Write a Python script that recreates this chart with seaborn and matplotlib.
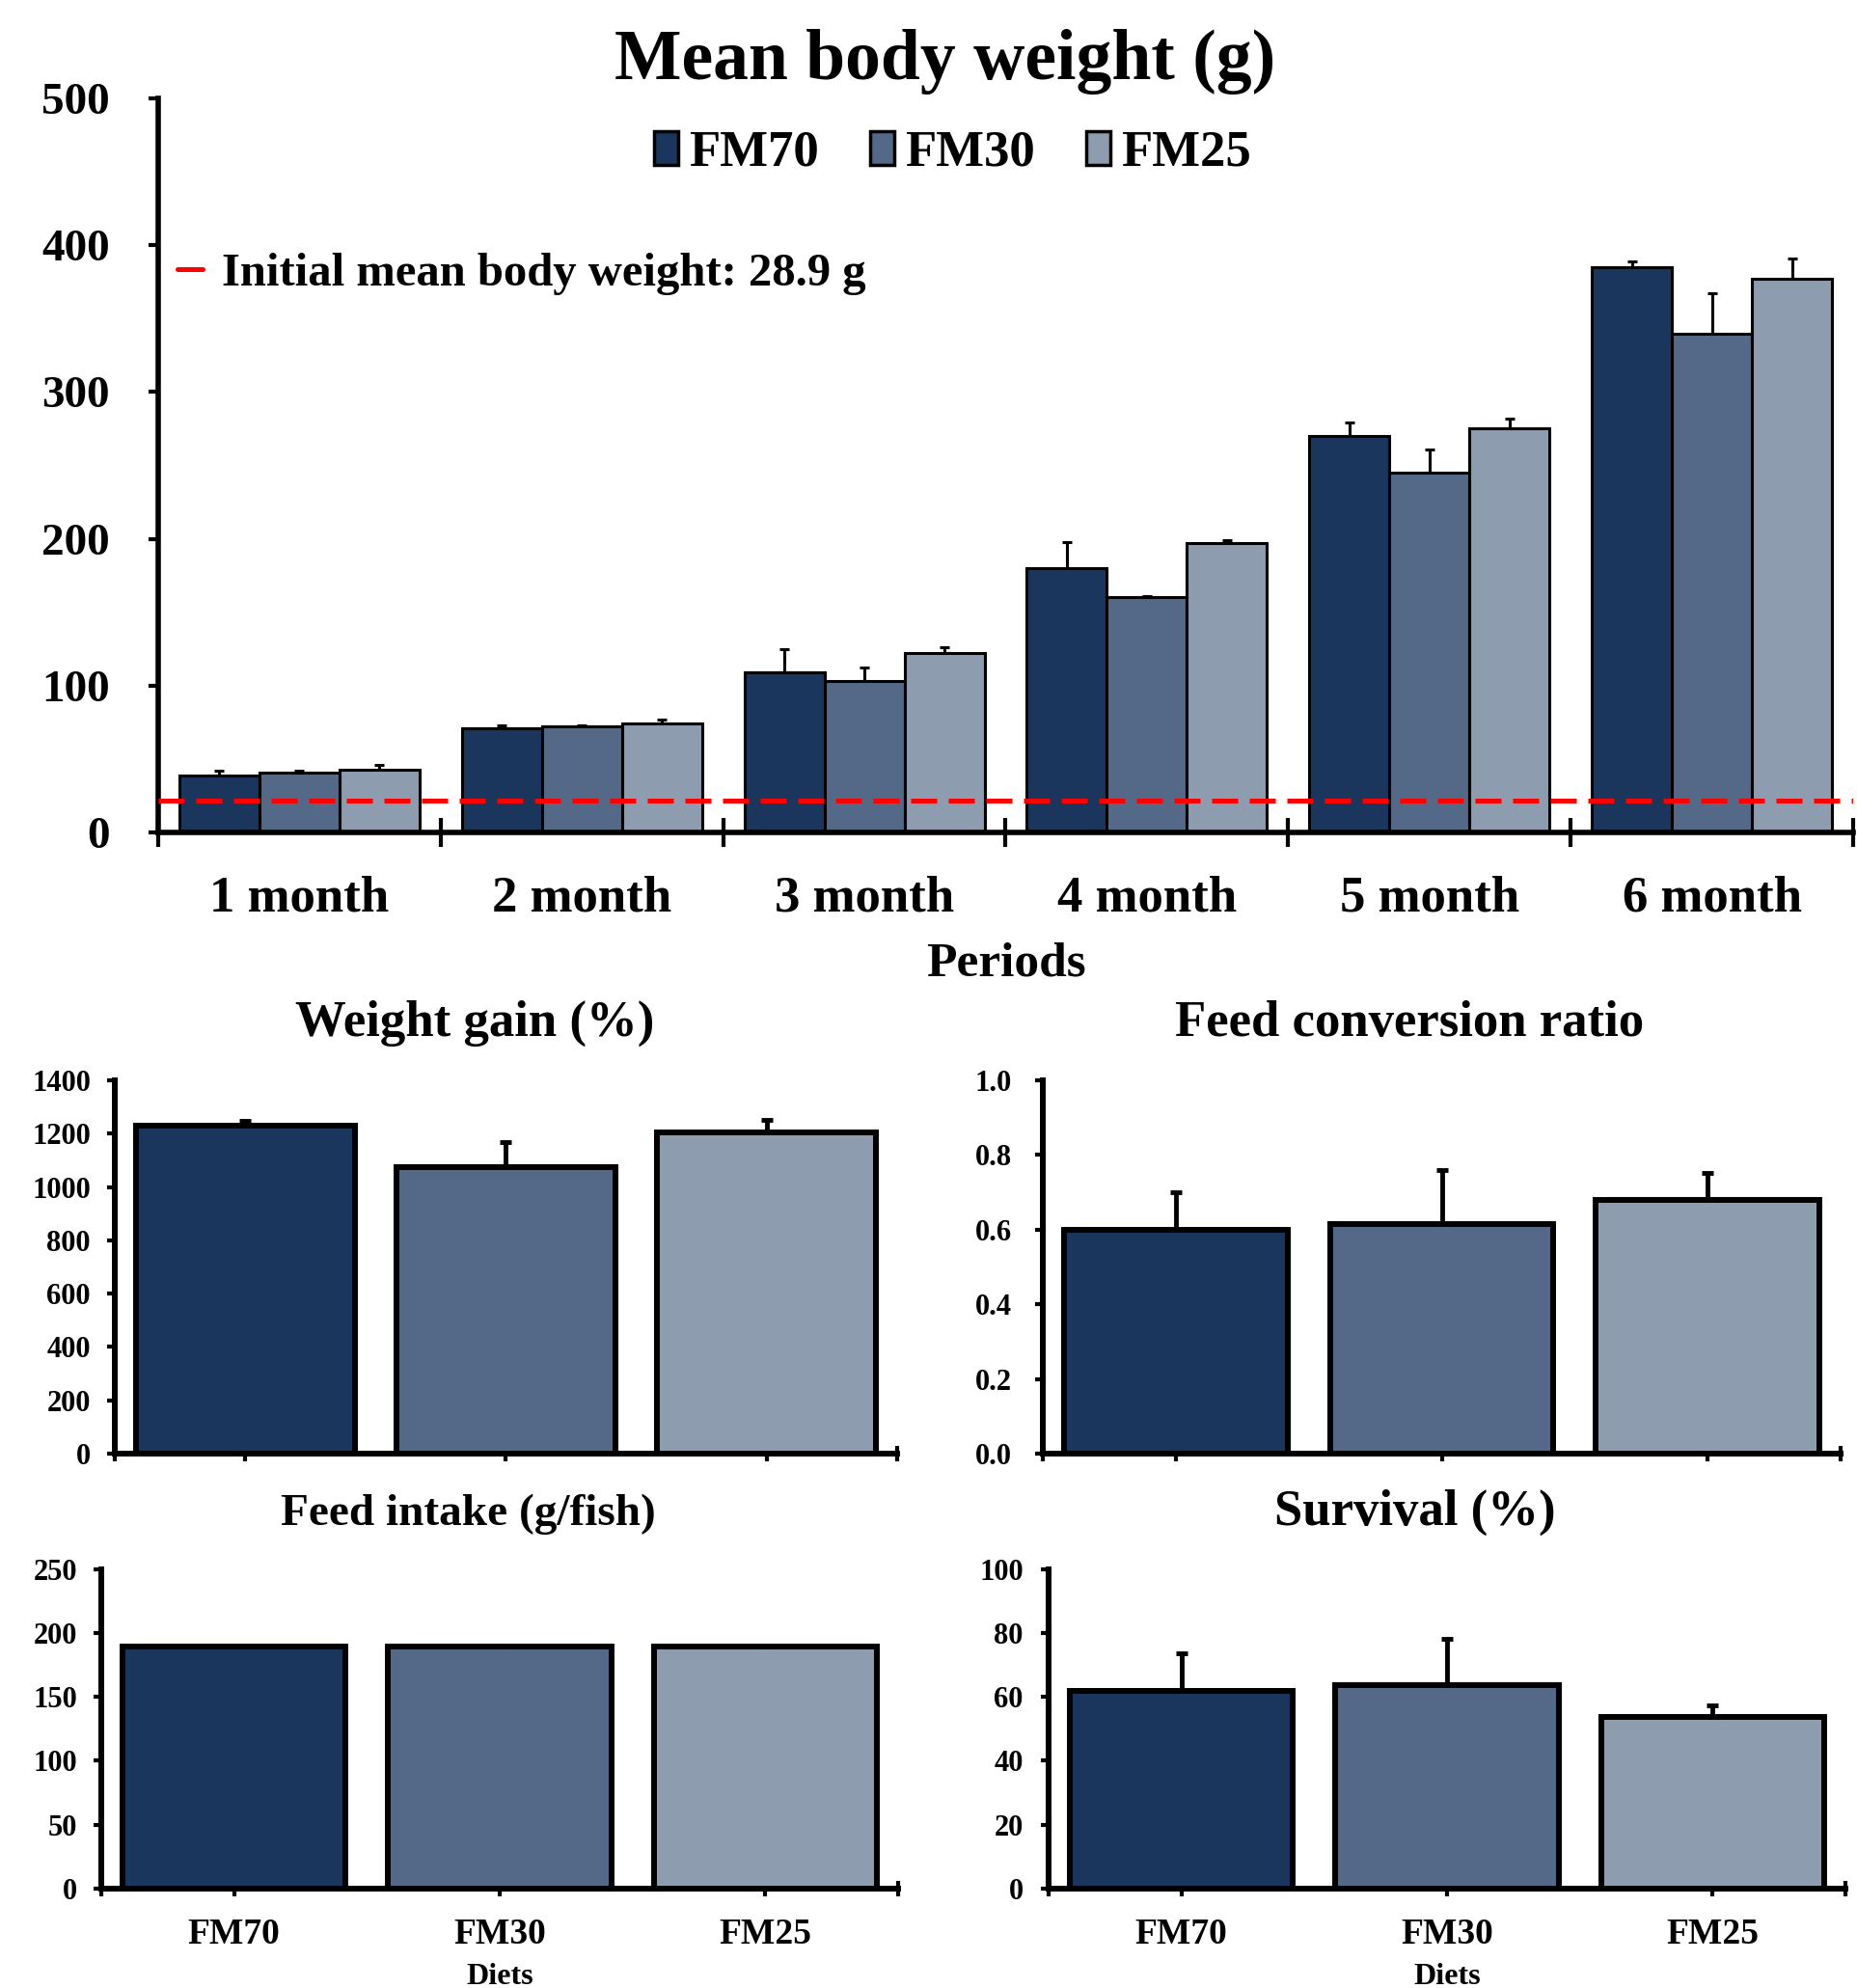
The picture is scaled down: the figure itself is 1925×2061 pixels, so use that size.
import numpy as np
import pandas as pd
import matplotlib
matplotlib.use("Agg")
import matplotlib.pyplot as plt
import seaborn as sns
from matplotlib.patches import Patch
from matplotlib.lines import Line2D

# ---- data ----
diets = ["FM70", "FM30", "FM25"]
periods = ["1 month", "2 month", "3 month", "4 month", "5 month", "6 month"]
colors = ["#1b365d", "#536987", "#8d9cae"]

bw_fm70 = [39, 71, 109, 180, 270, 385]
bw_fm30 = [41, 72, 103, 160, 245, 340]
bw_fm25 = [43, 74, 122, 197, 275, 377]
bw_err_fm70 = [3, 2, 16, 18, 9, 4]
bw_err_fm30 = [1, 1, 9, 1, 16, 27]
bw_err_fm25 = [3, 3, 4, 2, 7, 14]

initial_line = 21.5   # dashed line as drawn in the figure
initial_label = "Initial mean body weight: 28.9 g"

weight_gain = [1230, 1075, 1203]
weight_gain_err = [17, 93, 48]
fcr = [0.60, 0.615, 0.68]
fcr_err = [0.10, 0.145, 0.072]
feed_intake = [189.5, 189.5, 189.5]
feed_intake_err = [0.6, 0.6, 0.6]
survival = [61.7, 63.8, 53.8]
survival_err = [12.0, 14.3, 3.6]

sns.set_style("ticks")
plt.rcParams["font.family"] = ["Liberation Serif", "DejaVu Serif"]
plt.rcParams["font.weight"] = "bold"
plt.rcParams["axes.labelweight"] = "bold"
plt.rcParams["axes.titleweight"] = "bold"
for key in ["text.color", "axes.labelcolor", "xtick.color", "ytick.color", "axes.edgecolor"]:
    plt.rcParams[key] = "black"

fig = plt.figure(figsize=(19.25, 20.61), dpi=100)


def add_errbars(ax, bars, errs, lw, capsize):
    xs = [p.get_x() + p.get_width() / 2 for p in bars]
    ys = [p.get_height() for p in bars]
    ax.errorbar(xs, ys, yerr=[np.zeros(len(errs)), errs], fmt="none",
                ecolor="black", elinewidth=lw, capsize=capsize, capthick=lw,
                zorder=0.5)


# ============================
# Mean body weight
# ============================
ax = fig.add_axes([0.0852, 0.5813, 0.9127, 0.3692])
bw = pd.DataFrame({
    "period": periods * 3,
    "diet": np.repeat(diets, len(periods)),
    "weight": bw_fm70 + bw_fm30 + bw_fm25,
})
sns.barplot(data=bw, x="period", y="weight", hue="diet", order=periods,
            hue_order=diets, palette=colors, width=0.85, errorbar=None,
            edgecolor="black", linewidth=2.2, saturation=1, legend=False, ax=ax)
for cont, errs in zip(ax.containers, [bw_err_fm70, bw_err_fm30, bw_err_fm25]):
    add_errbars(ax, cont.patches, errs, lw=2.2, capsize=3.5)

ax.axhline(initial_line, color="#ff0000", ls=(0, (5.4, 2.4)), lw=3.6, zorder=5)
ax.set_xlim(-0.5, 5.5)
ax.set_ylim(0, 500)
ax.set_yticks(range(0, 501, 100))
ax.set_xticks(np.arange(-0.5, 6, 1), minor=True)
ax.tick_params(axis="x", which="major", length=0, pad=32, labelsize=38)
ax.tick_params(axis="x", which="minor", direction="inout", length=22, width=3)
ax.tick_params(axis="y", direction="out", length=7, width=3, pad=29, labelsize=34)
for s in ["top", "right"]:
    ax.spines[s].set_visible(False)
for s in ["left", "bottom"]:
    ax.spines[s].set_linewidth(4)
ax.set_ylabel("")
ax.set_xlabel("Periods", fontsize=37, labelpad=15)

handles = [Patch(facecolor=c, edgecolor="black", linewidth=2.5, label=d)
           for c, d in zip(colors, diets)]
leg1 = ax.legend(handles=handles, loc="center", bbox_to_anchor=(0.513, 0.9229),
                 bbox_transform=fig.transFigure, ncol=3, frameon=False, fontsize=38,
                 handlelength=0.47, handleheight=0.63, handletextpad=0.22,
                 columnspacing=1.0, borderpad=0, borderaxespad=0)
ax.add_artist(leg1)
ax.legend(handles=[Line2D([], [], color="#ff0000", lw=3.6)], labels=[initial_label],
          loc="center left", bbox_to_anchor=(0.0956, 0.8622),
          bbox_transform=fig.transFigure, frameon=False, fontsize=35,
          handlelength=0.53, handletextpad=0.41, borderpad=0, borderaxespad=0)

fig.text(0.509, 1 - 82 / 2061, "Mean body weight (g)", ha="center",
         va="baseline", fontsize=53, fontweight="bold")


# ============================
# Small panels
# ============================
def small_panel(rect, values, errs, title, ylim, yticks, title_size, show_x, ypad, fmt=None):
    ax = fig.add_axes(rect)
    df = pd.DataFrame({"diet": diets, "value": values})
    sns.barplot(data=df, x="diet", y="value", hue="diet", order=diets,
                hue_order=diets, palette=colors, width=0.84, errorbar=None,
                edgecolor="black", linewidth=4.3, saturation=1, legend=False, ax=ax)
    bars = sorted([p for p in ax.patches if p.get_width() > 0], key=lambda p: p.get_x())
    add_errbars(ax, bars, errs, lw=3.5, capsize=4.3)
    ax.set_xlim(-0.5, 2.5)
    ax.set_ylim(*ylim)
    ax.set_yticks(yticks)
    if fmt:
        ax.set_yticklabels([fmt % t for t in yticks])
    ax.set_xticks([-0.5, 2.5], minor=True)
    ax.tick_params(axis="x", which="both", direction="inout", length=11, width=3,
                   pad=16, labelsize=27)
    ax.tick_params(axis="y", direction="out", length=6, width=3, pad=ypad, labelsize=22)
    for s in ["top", "right"]:
        ax.spines[s].set_visible(False)
    for s in ["left", "bottom"]:
        ax.spines[s].set_linewidth(4.3)
    ax.set_ylabel("")
    if show_x:
        ax.set_xlabel("Diets", fontsize=23, labelpad=9)
    else:
        ax.set_xticklabels([])
        ax.set_xlabel("")
    ax.set_title(title, x=0.46, pad=33, fontsize=title_size, fontweight="bold")
    return ax


small_panel([0.0618, 0.2688, 0.4213, 0.1878], weight_gain, weight_gain_err,
            "Weight gain (%)", (0, 1400), list(range(0, 1401, 200)), 38, False, 12)
small_panel([0.5616, 0.2688, 0.4296, 0.1878], fcr, fcr_err,
            "Feed conversion ratio", (0, 1.0), [0, 0.2, 0.4, 0.6, 0.8, 1.0], 38, False, 17,
            fmt="%.1f")
small_panel([0.0545, 0.0500, 0.4291, 0.1608], feed_intake, feed_intake_err,
            "Feed intake (g/fish)", (0, 250), list(range(0, 251, 50)), 34, True, 12)
small_panel([0.5647, 0.0500, 0.4291, 0.1608], survival, survival_err,
            "Survival (%)", (0, 100), list(range(0, 101, 20)), 38, True, 13)

fig.savefig("out.png", dpi=100)
